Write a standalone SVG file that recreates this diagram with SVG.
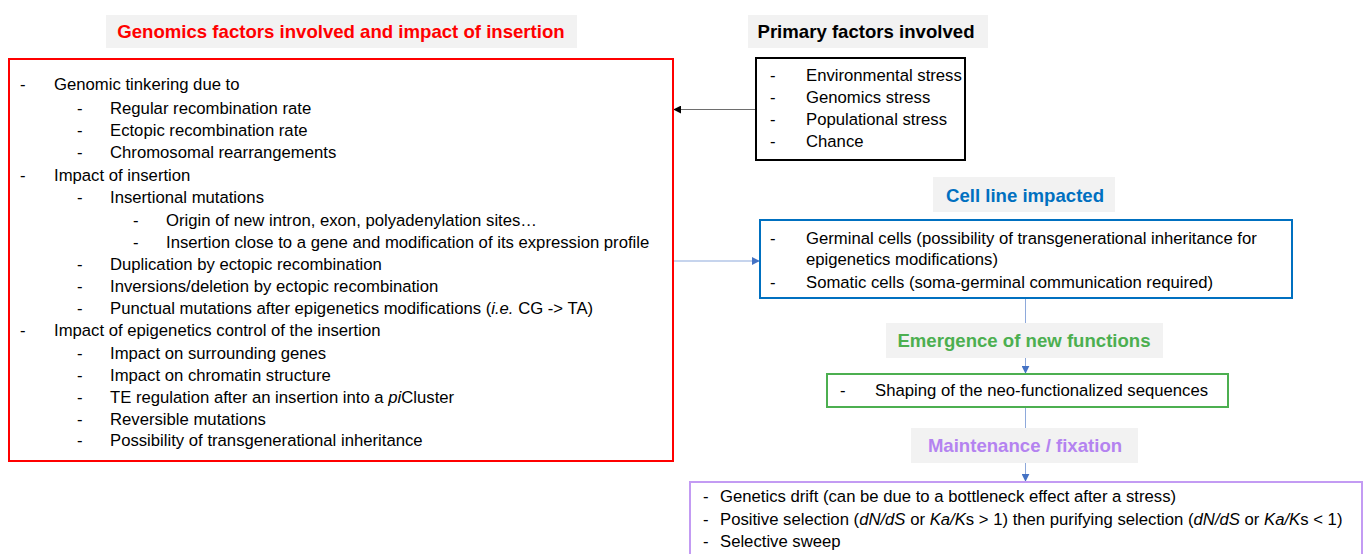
<svg xmlns="http://www.w3.org/2000/svg" width="1366" height="554" viewBox="0 0 1366 554">
<style>
text{font-family:"Liberation Sans",Arial,sans-serif;font-size:16.7px;fill:#000}
.t{font-weight:bold;font-size:18.6px;text-anchor:middle}
.bg{fill:#F2F2F2}
.i{font-style:italic}
</style>
<defs>
<marker id="ak" viewBox="0 0 10 10" refX="9" refY="5" markerWidth="8" markerHeight="8" markerUnits="userSpaceOnUse" orient="auto"><path d="M0,0L10,5L0,10z" fill="#000"/></marker>
<marker id="ab" viewBox="0 0 10 10" refX="9" refY="5" markerWidth="8" markerHeight="8" markerUnits="userSpaceOnUse" orient="auto"><path d="M0,0L10,5L0,10z" fill="#4472C4"/></marker>
</defs>
<rect width="1366" height="554" fill="#fff"/>
<g id="connectors" fill="none">
<line x1="756" y1="109.5" x2="674" y2="109.5" stroke="#6E6E6E" stroke-width="1.2" marker-end="url(#ak)"/>
<line x1="674" y1="261" x2="759" y2="261" stroke="#8EA9DB" stroke-width="1.2" marker-end="url(#ab)"/>
<line x1="1025.5" y1="298" x2="1025.5" y2="323" stroke="#8EA9DB" stroke-width="1"/>
<line x1="1025.5" y1="358" x2="1025.5" y2="373" stroke="#8EA9DB" stroke-width="1" marker-end="url(#ab)"/>
<line x1="1025.5" y1="407" x2="1025.5" y2="428" stroke="#8EA9DB" stroke-width="1"/>
<line x1="1025.5" y1="463" x2="1025.5" y2="481" stroke="#8EA9DB" stroke-width="1" marker-end="url(#ab)"/>
</g>
<g id="genomics">
<rect class="bg" x="106" y="15" width="471" height="33"/>
<text class="t" x="341" y="38" style="fill:#FF0000">Genomics factors involved and impact of insertion</text>
<rect x="9" y="59" width="664" height="402" fill="none" stroke="#FF0000" stroke-width="2"/>
<text x="20" y="90">-</text><text x="54" y="90">Genomic tinkering due to</text>
<text x="77" y="114">-</text><text x="110" y="114">Regular recombination rate</text>
<text x="77" y="136">-</text><text x="110" y="136">Ectopic recombination rate</text>
<text x="77" y="158">-</text><text x="110" y="158">Chromosomal rearrangements</text>
<text x="20" y="181">-</text><text x="54" y="181">Impact of insertion</text>
<text x="77" y="203">-</text><text x="110" y="203">Insertional mutations</text>
<text x="133" y="226">-</text><text x="166" y="226">Origin of new intron, exon, polyadenylation sites…</text>
<text x="133" y="248">-</text><text x="166" y="248">Insertion close to a gene and modification of its expression profile</text>
<text x="77" y="270">-</text><text x="110" y="270">Duplication by ectopic recombination</text>
<text x="77" y="292">-</text><text x="110" y="292">Inversions/deletion by ectopic recombination</text>
<text x="77" y="314">-</text><text x="110" y="314">Punctual mutations after epigenetics modifications (<tspan class="i">i.e.</tspan> CG -&gt; TA)</text>
<text x="20" y="336">-</text><text x="54" y="336">Impact of epigenetics control of the insertion</text>
<text x="77" y="359">-</text><text x="110" y="359">Impact on surrounding genes</text>
<text x="77" y="381">-</text><text x="110" y="381">Impact on chromatin structure</text>
<text x="77" y="403">-</text><text x="110" y="403">TE regulation after an insertion into a <tspan class="i">pi</tspan>Cluster</text>
<text x="77" y="425">-</text><text x="110" y="425">Reversible mutations</text>
<text x="77" y="446">-</text><text x="110" y="446">Possibility of transgenerational inheritance</text>
</g>
<g id="primary">
<rect class="bg" x="748" y="15" width="240" height="33"/>
<text class="t" x="866" y="38">Primary factors involved</text>
<rect x="756" y="58" width="209" height="102" fill="none" stroke="#000" stroke-width="2"/>
<text x="770" y="81">-</text><text x="806" y="81">Environmental stress</text>
<text x="770" y="103">-</text><text x="806" y="103">Genomics stress</text>
<text x="770" y="125">-</text><text x="806" y="125">Populational stress</text>
<text x="770" y="147">-</text><text x="806" y="147">Chance</text>
</g>
<g id="cellline">
<rect class="bg" x="933" y="177" width="182" height="35"/>
<text class="t" x="1025" y="202" style="fill:#0070C0">Cell line impacted</text>
<rect x="760" y="220" width="532" height="78" fill="none" stroke="#0070C0" stroke-width="2"/>
<text x="770" y="244">-</text><text x="806" y="244">Germinal cells (possibility of transgenerational inheritance for</text>
<text x="806" y="265">epigenetics modifications)</text>
<text x="770" y="288">-</text><text x="806" y="288">Somatic cells (soma-germinal communication required)</text>
</g>
<g id="emergence">
<rect class="bg" x="886" y="323" width="277" height="35"/>
<text class="t" x="1024" y="347" style="fill:#4CAF50">Emergence of new functions</text>
<rect x="827" y="374" width="401" height="33" fill="none" stroke="#4CAF50" stroke-width="2"/>
<text x="840" y="396">-</text><text x="875" y="396">Shaping of the neo-functionalized sequences</text>
</g>
<g id="maintenance">
<rect class="bg" x="911" y="428" width="227" height="35"/>
<text class="t" x="1025" y="452" style="fill:#B483F0">Maintenance / fixation</text>
<rect x="690" y="482" width="672" height="80" fill="none" stroke="#C39BF3" stroke-width="2"/>
<text x="703" y="502">-</text><text x="720" y="502">Genetics drift (can be due to a bottleneck effect after a stress)</text>
<text x="703" y="525">-</text><text x="720" y="525">Positive selection (<tspan class="i">dN/dS</tspan> or <tspan class="i">Ka/K</tspan>s &gt; 1) then purifying selection (<tspan class="i">dN/dS</tspan> or <tspan class="i">Ka/K</tspan>s &lt; 1)</text>
<text x="703" y="547">-</text><text x="720" y="547">Selective sweep</text>
</g>
</svg>
